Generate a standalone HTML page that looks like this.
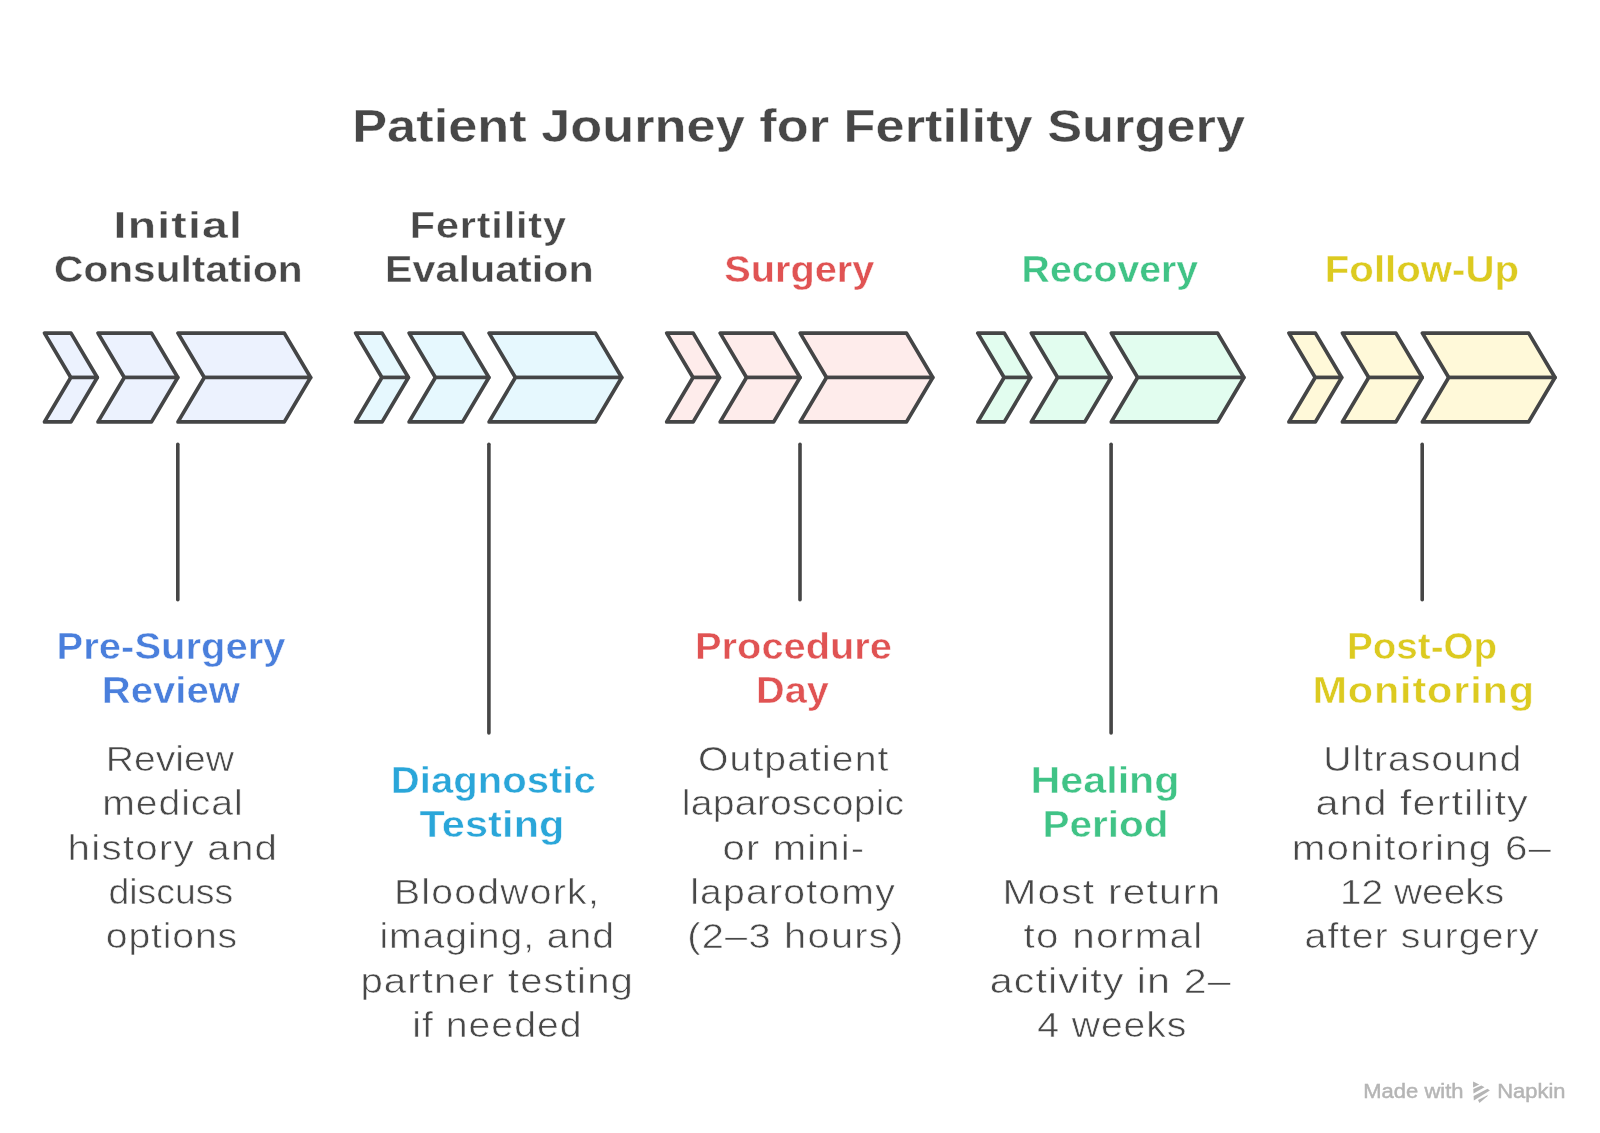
<!DOCTYPE html>
<html><head><meta charset="utf-8"><title>Patient Journey for Fertility Surgery</title>
<style>html,body{margin:0;padding:0;background:#fff;}body{width:1600px;height:1133px;overflow:hidden;}svg{display:block;will-change:transform;}text{font-family:"Liberation Sans",sans-serif;}</style></head><body>
<svg width="1600" height="1133" viewBox="0 0 1600 1133">
<rect width="1600" height="1133" fill="#ffffff"/>
<g stroke="#444546" stroke-width="3.7" stroke-linejoin="round" stroke-linecap="round">
<path d="M44.50,333.1 L71.00,333.1 L97.30,377.5 L70.80,377.5 Z" fill="#ecf2fe"/>
<path d="M70.80,377.5 L97.30,377.5 L71.00,421.9 L44.50,421.9 Z" fill="#ecf2fe"/>
<path d="M98.00,333.1 L151.50,333.1 L177.80,377.5 L124.30,377.5 Z" fill="#ecf2fe"/>
<path d="M124.30,377.5 L177.80,377.5 L151.50,421.9 L98.00,421.9 Z" fill="#ecf2fe"/>
<path d="M178.00,333.1 L284.30,333.1 L310.60,377.5 L204.30,377.5 Z" fill="#ecf2fe"/>
<path d="M204.30,377.5 L310.60,377.5 L284.30,421.9 L178.00,421.9 Z" fill="#ecf2fe"/>
<path d="M355.60,333.1 L382.10,333.1 L408.40,377.5 L381.90,377.5 Z" fill="#e6f8fe"/>
<path d="M381.90,377.5 L408.40,377.5 L382.10,421.9 L355.60,421.9 Z" fill="#e6f8fe"/>
<path d="M409.10,333.1 L462.60,333.1 L488.90,377.5 L435.40,377.5 Z" fill="#e6f8fe"/>
<path d="M435.40,377.5 L488.90,377.5 L462.60,421.9 L409.10,421.9 Z" fill="#e6f8fe"/>
<path d="M489.10,333.1 L595.40,333.1 L621.70,377.5 L515.40,377.5 Z" fill="#e6f8fe"/>
<path d="M515.40,377.5 L621.70,377.5 L595.40,421.9 L489.10,421.9 Z" fill="#e6f8fe"/>
<path d="M666.70,333.1 L693.20,333.1 L719.50,377.5 L693.00,377.5 Z" fill="#feeceb"/>
<path d="M693.00,377.5 L719.50,377.5 L693.20,421.9 L666.70,421.9 Z" fill="#feeceb"/>
<path d="M720.20,333.1 L773.70,333.1 L800.00,377.5 L746.50,377.5 Z" fill="#feeceb"/>
<path d="M746.50,377.5 L800.00,377.5 L773.70,421.9 L720.20,421.9 Z" fill="#feeceb"/>
<path d="M800.20,333.1 L906.50,333.1 L932.80,377.5 L826.50,377.5 Z" fill="#feeceb"/>
<path d="M826.50,377.5 L932.80,377.5 L906.50,421.9 L800.20,421.9 Z" fill="#feeceb"/>
<path d="M977.80,333.1 L1004.30,333.1 L1030.60,377.5 L1004.10,377.5 Z" fill="#e2fdef"/>
<path d="M1004.10,377.5 L1030.60,377.5 L1004.30,421.9 L977.80,421.9 Z" fill="#e2fdef"/>
<path d="M1031.30,333.1 L1084.80,333.1 L1111.10,377.5 L1057.60,377.5 Z" fill="#e2fdef"/>
<path d="M1057.60,377.5 L1111.10,377.5 L1084.80,421.9 L1031.30,421.9 Z" fill="#e2fdef"/>
<path d="M1111.30,333.1 L1217.60,333.1 L1243.90,377.5 L1137.60,377.5 Z" fill="#e2fdef"/>
<path d="M1137.60,377.5 L1243.90,377.5 L1217.60,421.9 L1111.30,421.9 Z" fill="#e2fdef"/>
<path d="M1288.90,333.1 L1315.40,333.1 L1341.70,377.5 L1315.20,377.5 Z" fill="#fff9d9"/>
<path d="M1315.20,377.5 L1341.70,377.5 L1315.40,421.9 L1288.90,421.9 Z" fill="#fff9d9"/>
<path d="M1342.40,333.1 L1395.90,333.1 L1422.20,377.5 L1368.70,377.5 Z" fill="#fff9d9"/>
<path d="M1368.70,377.5 L1422.20,377.5 L1395.90,421.9 L1342.40,421.9 Z" fill="#fff9d9"/>
<path d="M1422.40,333.1 L1528.70,333.1 L1555.00,377.5 L1448.70,377.5 Z" fill="#fff9d9"/>
<path d="M1448.70,377.5 L1555.00,377.5 L1528.70,421.9 L1422.40,421.9 Z" fill="#fff9d9"/>
<line x1="177.80" y1="444.2" x2="177.80" y2="599.7" stroke="#464646" stroke-width="3.6"/>
<line x1="488.90" y1="444.2" x2="488.90" y2="733.0" stroke="#464646" stroke-width="3.6"/>
<line x1="800.00" y1="444.2" x2="800.00" y2="599.7" stroke="#464646" stroke-width="3.6"/>
<line x1="1111.10" y1="444.2" x2="1111.10" y2="733.0" stroke="#464646" stroke-width="3.6"/>
<line x1="1422.20" y1="444.2" x2="1422.20" y2="599.7" stroke="#464646" stroke-width="3.6"/>
</g>
<g>
<text transform="translate(352.20,141.7) scale(1.1135,1)" font-size="47.0" font-weight="bold" fill="#474747" stroke="#ffffff" stroke-width="0.4" textLength="801.78" lengthAdjust="spacing">Patient Journey for Fertility Surgery</text>
<text transform="translate(113.60,238.0) scale(1.2539,1)" font-size="37.0" font-weight="bold" fill="#484848" stroke="#ffffff" stroke-width="0.4" textLength="102.41" lengthAdjust="spacing">Initial</text>
<text transform="translate(54.00,282.0) scale(1.0997,1)" font-size="37.0" font-weight="bold" fill="#484848" stroke="#ffffff" stroke-width="0.4" textLength="226.08" lengthAdjust="spacing">Consultation</text>
<text transform="translate(409.80,238.0) scale(1.12,1)" font-size="37.0" font-weight="bold" fill="#484848" stroke="#ffffff" stroke-width="0.4" textLength="139.46" lengthAdjust="spacing">Fertility</text>
<text transform="translate(385.00,282.0) scale(1.1159,1)" font-size="37.0" font-weight="bold" fill="#484848" stroke="#ffffff" stroke-width="0.4" textLength="187.10" lengthAdjust="spacing">Evaluation</text>
<text transform="translate(724.20,282.0) scale(1.0742,1)" font-size="37.0" font-weight="bold" fill="#e05353" stroke="#ffffff" stroke-width="0.4" textLength="139.84" lengthAdjust="spacing">Surgery</text>
<text transform="translate(1021.60,282.0) scale(1.0588,1)" font-size="37.0" font-weight="bold" fill="#40c386" stroke="#ffffff" stroke-width="0.4" textLength="166.60" lengthAdjust="spacing">Recovery</text>
<text transform="translate(1324.80,282.0) scale(1.0862,1)" font-size="37.0" font-weight="bold" fill="#dcca20" stroke="#ffffff" stroke-width="0.4" textLength="178.79" lengthAdjust="spacing">Follow-Up</text>
<text transform="translate(56.60,659.0) scale(1.0811,1)" font-size="37.0" font-weight="bold" fill="#4a7fdc" stroke="#ffffff" stroke-width="0.5" textLength="211.81" lengthAdjust="spacing">Pre-Surgery</text>
<text transform="translate(101.80,703.4) scale(1.0833,1)" font-size="37.0" font-weight="bold" fill="#4a7fdc" stroke="#ffffff" stroke-width="0.5" textLength="127.51" lengthAdjust="spacing">Review</text>
<text transform="translate(390.80,792.6) scale(1.0838,1)" font-size="37.0" font-weight="bold" fill="#2aa6d9" stroke="#ffffff" stroke-width="0.5" textLength="189.14" lengthAdjust="spacing">Diagnostic</text>
<text transform="translate(419.40,837.0) scale(1.12,1)" font-size="37.0" font-weight="bold" fill="#2aa6d9" stroke="#ffffff" stroke-width="0.5" textLength="129.48" lengthAdjust="spacing">Testing</text>
<text transform="translate(695.00,659.0) scale(1.0765,1)" font-size="37.0" font-weight="bold" fill="#e05353" stroke="#ffffff" stroke-width="0.5" textLength="183.01" lengthAdjust="spacing">Procedure</text>
<text transform="translate(756.00,703.4) scale(1.0728,1)" font-size="37.0" font-weight="bold" fill="#e05353" stroke="#ffffff" stroke-width="0.5" textLength="67.88" lengthAdjust="spacing">Day</text>
<text transform="translate(1030.40,792.6) scale(1.1164,1)" font-size="37.0" font-weight="bold" fill="#40c386" stroke="#ffffff" stroke-width="0.5" textLength="133.64" lengthAdjust="spacing">Healing</text>
<text transform="translate(1042.40,837.0) scale(1.0943,1)" font-size="37.0" font-weight="bold" fill="#40c386" stroke="#ffffff" stroke-width="0.5" textLength="115.14" lengthAdjust="spacing">Period</text>
<text transform="translate(1347.00,659.0) scale(1.0438,1)" font-size="37.0" font-weight="bold" fill="#dcca20" stroke="#ffffff" stroke-width="0.5" textLength="143.89" lengthAdjust="spacing">Post-Op</text>
<text transform="translate(1312.40,703.4) scale(1.12,1)" font-size="37.0" font-weight="bold" fill="#dcca20" stroke="#ffffff" stroke-width="0.5" textLength="197.86" lengthAdjust="spacing">Monitoring</text>
<text transform="translate(105.80,770.8) scale(1.1178,1)" font-size="35.0" font-weight="normal" fill="#484848" stroke="#ffffff" stroke-width="0.6" textLength="114.76" lengthAdjust="spacing">Review</text>
<text transform="translate(102.20,815.2) scale(1.12,1)" font-size="35.0" font-weight="normal" fill="#484848" stroke="#ffffff" stroke-width="0.6" textLength="125.53" lengthAdjust="spacing">medical</text>
<text transform="translate(67.60,859.6) scale(1.1538,1)" font-size="35.0" font-weight="normal" fill="#484848" stroke="#ffffff" stroke-width="0.6" textLength="181.47" lengthAdjust="spacing">history and</text>
<text transform="translate(108.40,904.0) scale(1.0695,1)" font-size="35.0" font-weight="normal" fill="#484848" stroke="#ffffff" stroke-width="0.6" textLength="116.71" lengthAdjust="spacing">discuss</text>
<text transform="translate(105.80,948.4) scale(1.12,1)" font-size="35.0" font-weight="normal" fill="#484848" stroke="#ffffff" stroke-width="0.6" textLength="117.31" lengthAdjust="spacing">options</text>
<text transform="translate(394.00,904.0) scale(1.12,1)" font-size="35.0" font-weight="normal" fill="#484848" stroke="#ffffff" stroke-width="0.6" textLength="182.85" lengthAdjust="spacing">Bloodwork,</text>
<text transform="translate(379.40,948.4) scale(1.12,1)" font-size="35.0" font-weight="normal" fill="#484848" stroke="#ffffff" stroke-width="0.6" textLength="209.47" lengthAdjust="spacing">imaging, and</text>
<text transform="translate(360.40,992.8) scale(1.1493,1)" font-size="35.0" font-weight="normal" fill="#484848" stroke="#ffffff" stroke-width="0.6" textLength="237.17" lengthAdjust="spacing">partner testing</text>
<text transform="translate(412.20,1037.2) scale(1.12,1)" font-size="35.0" font-weight="normal" fill="#484848" stroke="#ffffff" stroke-width="0.6" textLength="151.24" lengthAdjust="spacing">if needed</text>
<text transform="translate(698.00,770.8) scale(1.12,1)" font-size="35.0" font-weight="normal" fill="#484848" stroke="#ffffff" stroke-width="0.6" textLength="170.01" lengthAdjust="spacing">Outpatient</text>
<text transform="translate(681.80,815.2) scale(1.12,1)" font-size="35.0" font-weight="normal" fill="#484848" stroke="#ffffff" stroke-width="0.6" textLength="198.58" lengthAdjust="spacing">laparoscopic</text>
<text transform="translate(722.60,859.6) scale(1.1448,1)" font-size="35.0" font-weight="normal" fill="#484848" stroke="#ffffff" stroke-width="0.6" textLength="123.67" lengthAdjust="spacing">or mini-</text>
<text transform="translate(690.20,904.0) scale(1.12,1)" font-size="35.0" font-weight="normal" fill="#484848" stroke="#ffffff" stroke-width="0.6" textLength="182.67" lengthAdjust="spacing">laparotomy</text>
<text transform="translate(687.20,948.4) scale(1.1385,1)" font-size="35.0" font-weight="normal" fill="#484848" stroke="#ffffff" stroke-width="0.6" textLength="189.72" lengthAdjust="spacing">(2–3 hours)</text>
<text transform="translate(1002.40,904.0) scale(1.1609,1)" font-size="35.0" font-weight="normal" fill="#484848" stroke="#ffffff" stroke-width="0.6" textLength="187.62" lengthAdjust="spacing">Most return</text>
<text transform="translate(1023.60,948.4) scale(1.155,1)" font-size="35.0" font-weight="normal" fill="#484848" stroke="#ffffff" stroke-width="0.6" textLength="154.65" lengthAdjust="spacing">to normal</text>
<text transform="translate(989.80,992.8) scale(1.1797,1)" font-size="35.0" font-weight="normal" fill="#484848" stroke="#ffffff" stroke-width="0.6" textLength="204.14" lengthAdjust="spacing">activity in 2–</text>
<text transform="translate(1037.20,1037.2) scale(1.12,1)" font-size="35.0" font-weight="normal" fill="#484848" stroke="#ffffff" stroke-width="0.6" textLength="133.23" lengthAdjust="spacing">4 weeks</text>
<text transform="translate(1323.20,770.8) scale(1.12,1)" font-size="35.0" font-weight="normal" fill="#484848" stroke="#ffffff" stroke-width="0.6" textLength="176.96" lengthAdjust="spacing">Ultrasound</text>
<text transform="translate(1315.40,815.2) scale(1.1841,1)" font-size="35.0" font-weight="normal" fill="#484848" stroke="#ffffff" stroke-width="0.6" textLength="179.39" lengthAdjust="spacing">and fertility</text>
<text transform="translate(1291.80,859.6) scale(1.1531,1)" font-size="35.0" font-weight="normal" fill="#484848" stroke="#ffffff" stroke-width="0.6" textLength="224.79" lengthAdjust="spacing">monitoring 6–</text>
<text transform="translate(1340.00,904.0) scale(1.1104,1)" font-size="35.0" font-weight="normal" fill="#484848" stroke="#ffffff" stroke-width="0.6" textLength="147.86" lengthAdjust="spacing">12 weeks</text>
<text transform="translate(1304.60,948.4) scale(1.1237,1)" font-size="35.0" font-weight="normal" fill="#484848" stroke="#ffffff" stroke-width="0.6" textLength="208.25" lengthAdjust="spacing">after surgery</text>
</g>
<text x="1363.30" y="1097.6" font-size="19.5" fill="#b5b5b5" stroke="#b5b5b5" stroke-width="0.45" textLength="100.19" lengthAdjust="spacingAndGlyphs">Made with</text>
<text x="1497.30" y="1097.6" font-size="19.5" fill="#b5b5b5" stroke="#b5b5b5" stroke-width="0.45" textLength="68.20" lengthAdjust="spacingAndGlyphs">Napkin</text>
<g fill="#b5b5b5"><path d="M1473.07,1081.58 L1479.25,1084.48 L1473.07,1087.39 Z"/><path d="M1473.31,1089.07 L1481.35,1085.41 L1484.51,1087.19 L1473.49,1093.62 Z"/><path d="M1473.64,1096.09 L1487.53,1088.87 L1489.87,1090.56 L1473.81,1100.44 Z"/><path d="M1478.01,1100.12 L1487.97,1094.96 L1487.28,1096.17 L1479.42,1103.09 Z"/></g>
</svg></body></html>
